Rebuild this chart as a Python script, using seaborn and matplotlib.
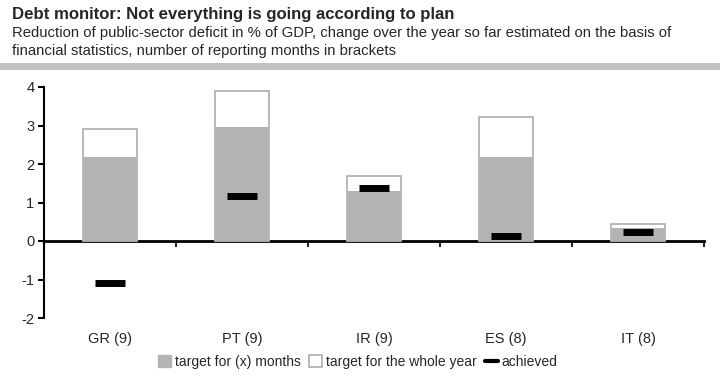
import matplotlib
matplotlib.use("Agg")
import matplotlib.pyplot as plt
import matplotlib.patches as mpatches
import matplotlib.lines as mlines
import numpy as np
import pandas as pd
import seaborn as sns

# ── Data ──────────────────────────────────────────────────────────────────────
countries   = ["GR (9)", "PT (9)", "IR (9)", "ES (8)", "IT (8)"]
target_year = [2.9, 3.9, 1.69, 3.23, 0.44]
target_mths = [2.17, 2.96, 1.3, 2.17, 0.34]
achieved    = [-1.1, 1.16, 1.37, 0.14, 0.23]
y_ticks     = [-2, -1, 0, 1, 2, 3, 4]

GREY = "#b3b3b3"

df = pd.DataFrame({"country": countries, "year": target_year,
                   "months": target_mths, "achieved": achieved})

sns.set_style("white")
plt.rcParams["font.family"] = ["Liberation Sans", "DejaVu Sans"]
plt.rcParams["axes.unicode_minus"] = False

fig = plt.figure(figsize=(7.2, 3.84), dpi=100)
ax = fig.add_axes([44 / 720, 1 - 318 / 384, 660 / 720, 231 / 384])

sns.barplot(data=df, x="country", y="year", color="white", edgecolor=GREY,
            linewidth=1.3, width=0.41, saturation=1, ax=ax)
sns.barplot(data=df, x="country", y="months", color=GREY, linewidth=0,
            width=0.41, saturation=1, ax=ax)

xs = np.arange(len(countries))
ax.hlines(df["achieved"], xs - 0.115, xs + 0.115, colors="black", linewidth=5, zorder=5)

ax.set_xlim(-0.5, len(countries) - 0.5)
ax.set_ylim(-2, 4)
ax.set_yticks(y_ticks)
ax.set_xlabel("")
ax.set_ylabel("")
ax.tick_params(axis="y", direction="out", length=4, width=1.5, color="black",
               labelsize=10.5, left=True, pad=3)
ax.tick_params(axis="x", length=0, labelsize=10.5, pad=10)
for s in ["top", "right", "bottom"]:
    ax.spines[s].set_visible(False)
ax.spines["left"].set_linewidth(1.5)
ax.spines["left"].set_color("black")

# zero line with boundary ticks
zero = ax.secondary_xaxis(1 / 3)
zero.set_xticks(np.arange(len(countries) + 1) - 0.5)
zero.tick_params(direction="out", length=4, width=1.5, labelbottom=False)
zero.spines["bottom"].set_linewidth(2)
zero.spines["bottom"].set_color("black")
for lbl in zero.get_xticklabels():
    lbl.set_visible(False)

# ── Header ────────────────────────────────────────────────────────────────────
fig.text(12 / 720, 1 - 19.5 / 384, "Debt monitor: Not everything is going according to plan",
         fontsize=12.1, fontweight="bold", ha="left", va="baseline")
fig.text(12 / 720, 1 - 37.5 / 384,
         "Reduction of public-sector deficit in % of GDP, change over the year so far estimated on the basis of",
         fontsize=10.7, ha="left", va="baseline")
fig.text(12 / 720, 1 - 55 / 384, "financial statistics, number of reporting months in brackets",
         fontsize=10.7, ha="left", va="baseline")
fig.patches.append(mpatches.Rectangle((0, 1 - 70 / 384), 1, 7 / 384, transform=fig.transFigure,
                                      facecolor="#c0c0c0", edgecolor="none"))

# ── Legend ────────────────────────────────────────────────────────────────────
handles = [
    mpatches.Patch(facecolor=GREY, edgecolor=GREY, label="target for (x) months"),
    mpatches.Patch(facecolor="white", edgecolor=GREY, linewidth=1.3, label="target for the whole year"),
    mlines.Line2D([], [], color="black", linewidth=3, label="achieved"),
]
fig.legend(handles=handles, loc="center", bbox_to_anchor=(358 / 720, 1 - 362 / 384), ncol=3,
           frameon=False, fontsize=10, handlelength=0.9, handleheight=0.9,
           handletextpad=0.3, columnspacing=0.6)

fig.savefig("out.png", dpi=100)
